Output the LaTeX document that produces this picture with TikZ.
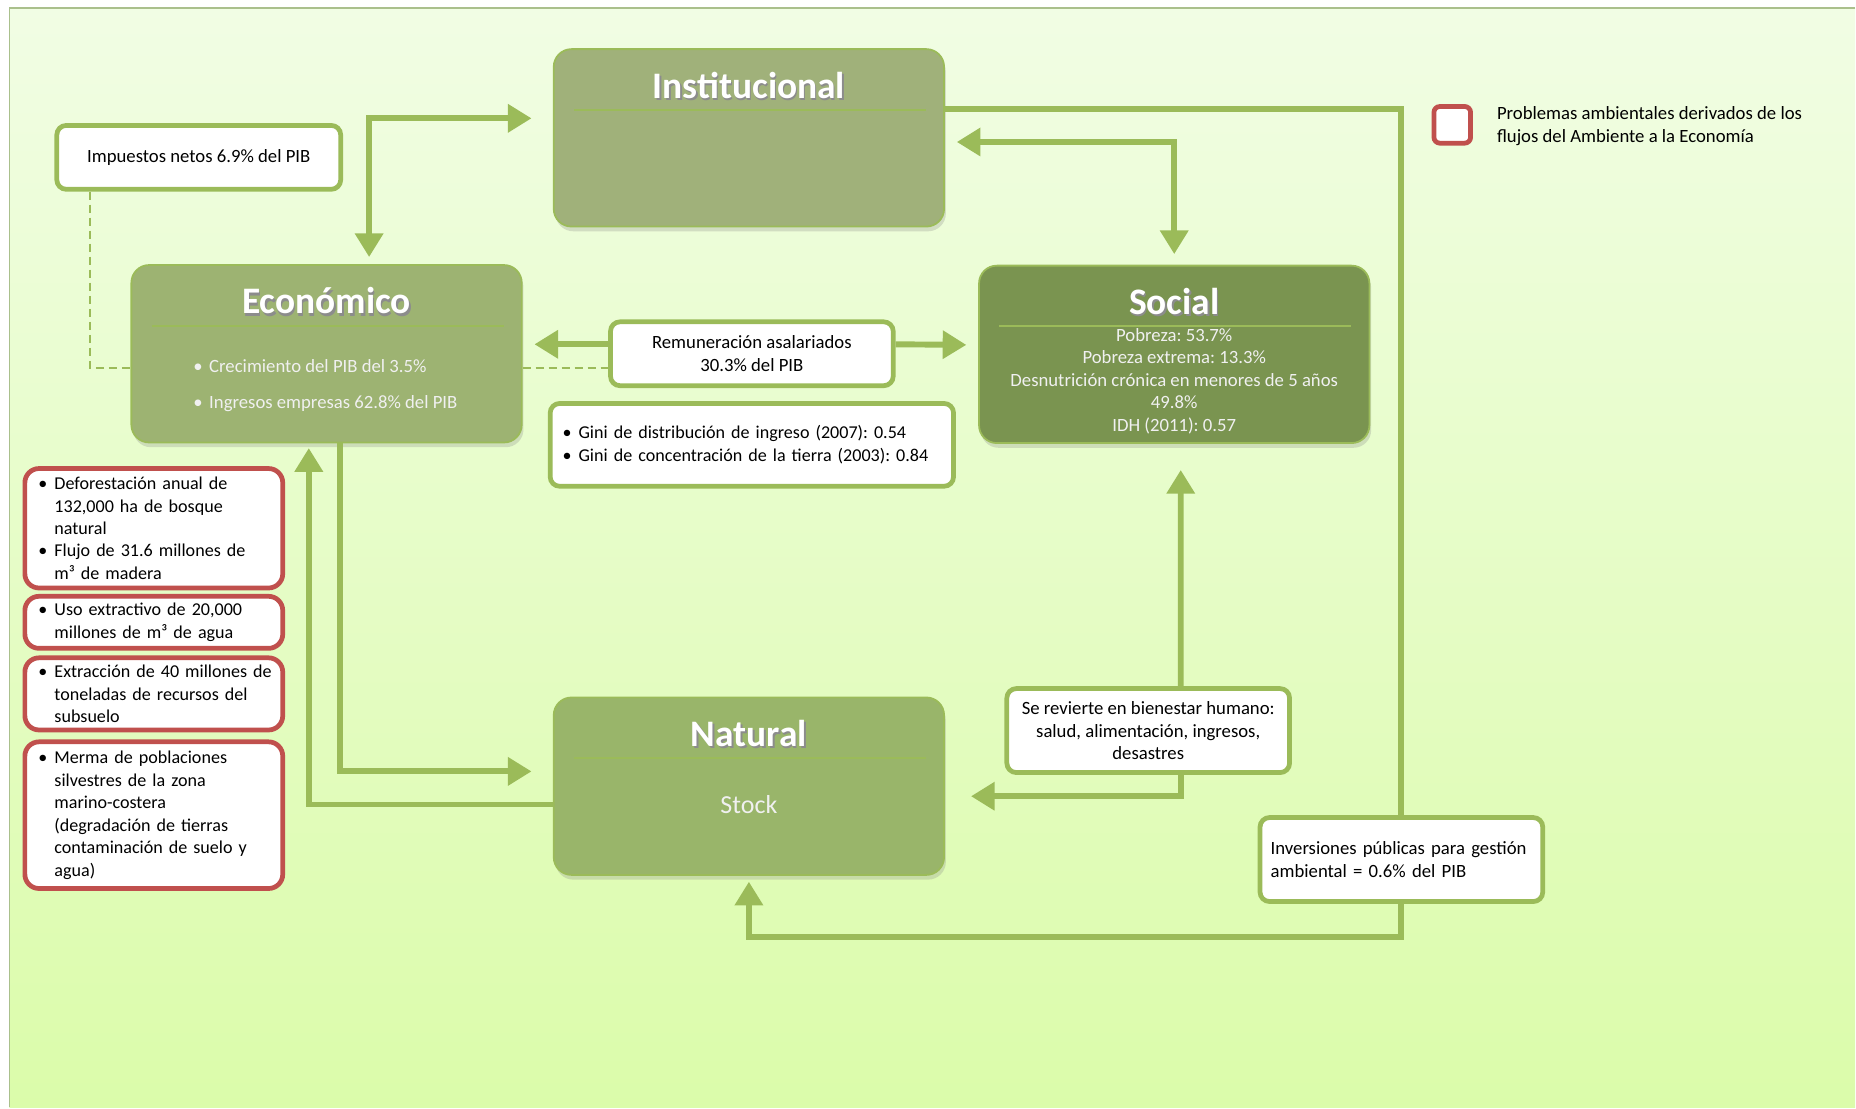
\documentclass[tikz,border=0pt]{standalone}
\usepackage{fontspec}
\setmainfont{Carlito}
\usetikzlibrary{arrows.meta,shadows}

\definecolor{flowgreen}{RGB}{155,187,89}
\definecolor{instfill}{RGB}{160,177,122}
\definecolor{econfill}{RGB}{157,179,114}
\definecolor{socfill}{RGB}{122,148,80}
\definecolor{natfill}{RGB}{153,181,106}
\definecolor{probred}{RGB}{192,80,77}
\definecolor{bgtop}{RGB}{241,253,228}
\definecolor{bgbottom}{RGB}{219,252,170}
\definecolor{framegray}{RGB}{170,192,140}

\frenchspacing
\newcommand{\itembul}{\makebox[0.27cm][l]{\textbullet}}
\newcommand{\itemind}{\hspace*{0.27cm}}
\newcommand{\shadowed}[1]{\leavevmode\rlap{\kern0.7pt\raisebox{-1pt}{\textcolor{black!45}{#1}}}#1}

\begin{document}
\begin{tikzpicture}[x=0.02cm,y=-0.02cm,>={Triangle[length=0.4cm,width=0.46cm]},
    flow/.style={draw=flowgreen,line width=0.1cm},
    dashline/.style={draw=flowgreen,line width=0.04cm,dash pattern=on 0.14cm off 0.08cm},
    bigbox/.style={draw=flowgreen,line width=0.03cm,rounded corners=0.3cm,
        minimum width=6.6cm,minimum height=3cm,
        drop shadow={shadow xshift=0.03cm,shadow yshift=-0.08cm,opacity=0.25}},
    boxtitle/.style={text=white,font=\fontsize{18}{21}\selectfont\bfseries},
    sepline/.style={draw=flowgreen,line width=0.03cm},
    bodytext/.style={text=white!94!black,font=\fontsize{9}{10.8}\selectfont,inner sep=0pt},
    note/.style={draw=flowgreen,line width=0.08cm,rounded corners=0.16cm,fill=white,
        font=\fontsize{9}{10.8}\selectfont,inner sep=0pt},
    problem/.style={draw=probred,line width=0.08cm,rounded corners=0.24cm,fill=white,
        text width=4.3cm,inner xsep=0.03cm,inner ysep=0pt,align=left,
        font=\fontsize{8.7}{10.8}\selectfont}]
  % background
  \fill[white] (0,0) rectangle (1568,936);
  \shade[top color=bgtop,bottom color=bgbottom] (8,7) rectangle (1568,936);
  \draw[framegray,line width=0.03cm] (1568,7) -- (8,7) -- (8,936);
  \useasboundingbox (0,0) rectangle (1568,936);

  % the four capitals
  \foreach \n/\x/\y/\c/\ttl in {inst/633/116.5/instfill/Institucional,
      econ/276/299/econfill/Económico,
      social/992.5/299.5/socfill/Social,
      natural/633/664.5/natfill/Natural} {
      \node[bigbox,fill=\c] (\n) at (\x,\y) {};
      \node[boxtitle] (\n-title) at ([yshift=-0.64cm]\n.north) {\shadowed{\ttl}};
      \draw[sepline] ([xshift=0.36cm,yshift=-1.04cm]\n.north west) -- ([xshift=-0.32cm,yshift=-1.04cm]\n.north east);
    }
  \node[bodytext,align=left,anchor=west] (econ-body) at (163,326)
    {\itembul Crecimiento del PIB del 3.5\%\\[0.22cm]\itembul Ingresos empresas 62.8\% del PIB};
  \node[bodytext,align=center] (social-body) at (992.5,322)
    {Pobreza: 53.7\%\\Pobreza extrema: 13.3\%\\Desnutrición crónica en menores de 5 años\\49.8\%\\IDH (2011): 0.57};
  \node[bodytext,font=\fontsize{12.5}{15}\selectfont] (natural-stock) at (633,680) {Stock};

  % flows
  \node[note,minimum width=4.8cm,minimum height=1.08cm] (impuestos) at (168,133) {Impuestos netos 6.9\% del PIB};
  \node[note,minimum width=4.78cm,minimum height=1.08cm,align=center] (remun) at (635.5,299)
    {Remuneración asalariados\\30.3\% del PIB};
  \node[note,minimum width=6.82cm,minimum height=1.4cm,text width=6.4cm,align=left,
      font=\fontsize{8.7}{10.8}\selectfont] (gini) at (635.5,376)
    {\itembul Gini de distribución de ingreso (2007): 0.54\\\itembul Gini de concentración de la tierra (2003): 0.84};
  \node[note,minimum width=4.78cm,minimum height=1.42cm,align=center] (revierte) at (970.5,617.5)
    {Se revierte en bienestar humano:\\salud, alimentación, ingresos,\\desastres};
  \node[note,minimum width=4.78cm,minimum height=1.42cm,text width=4.42cm,align=left] (inver) at (1184.5,726.5)
    {Inversiones públicas para gestión\\ambiental = 0.6\% del PIB};

  % environmental problems
  \node[problem,minimum height=2.02cm] (prob-bosque) at (130,446.5)
    {\hspace*{0.2cm}\itembul Deforestación anual de\\\hspace*{0.2cm}\itemind 132,000 ha de bosque\\\hspace*{0.2cm}\itemind natural\\
     \hspace*{0.2cm}\itembul Flujo de 31.6 millones de\\\hspace*{0.2cm}\itemind m³ de madera};
  \node[problem,minimum height=0.88cm] (prob-agua) at (130,526)
    {\hspace*{0.2cm}\itembul Uso extractivo de 20,000\\\hspace*{0.2cm}\itemind millones de m³ de agua};
  \node[problem,minimum height=1.22cm] (prob-subsuelo) at (130,586.5)
    {\hspace*{0.2cm}\itembul Extracción de 40 millones de\\\hspace*{0.2cm}\itemind toneladas de recursos del\\\hspace*{0.2cm}\itemind subsuelo};
  \node[problem,minimum height=2.48cm] (prob-costa) at (130,689)
    {\hspace*{0.2cm}\itembul Merma de poblaciones\\\hspace*{0.2cm}\itemind silvestres de la zona\\\hspace*{0.2cm}\itemind marino-costera\\
     \hspace*{0.2cm}\itemind (degradación de tierras\\\hspace*{0.2cm}\itemind contaminación de suelo y\\\hspace*{0.2cm}\itemind agua)};

  % legend
  \node[draw=probred,line width=0.08cm,rounded corners=0.1cm,fill=white,minimum size=0.62cm] (legend-box) at (1227.5,105.5) {};
  \node[anchor=west,align=left,inner sep=0pt,font=\fontsize{9}{10.8}\selectfont] (legend-text) at (1265,106.5)
    {Problemas ambientales derivados de los\\flujos del Ambiente a la Economía};

  % connectors
  \draw[flow,<->] ([xshift=0.72cm,yshift=0.12cm]econ.north) |- ([xshift=-0.36cm,yshift=0.33cm]inst.west);
  \draw[flow,<->] ([xshift=0.2cm,yshift=-0.07cm]inst.east) -| ([yshift=0.18cm]social.north);
  \draw[flow] ([yshift=0.49cm]inst.east) -| (inver.north);
  \draw[flow,->] (inver.south) -- ++(0,28) -| ([yshift=-0.1cm]natural.south);
  \draw[flow,->] ([yshift=0.16cm]remun.west) -- ([xshift=0.2cm,yshift=0.16cm]econ.east);
  \draw[flow,->] ([yshift=0.16cm]remun.east) -- ([xshift=-0.2cm,yshift=0.16cm]social.west);
  \draw[dashline] ([xshift=-1.84cm]impuestos.south) |- ([yshift=-0.24cm]econ.west);
  \draw[dashline] ([yshift=-0.24cm]econ.east) -- ([yshift=-0.24cm]remun.west);
  \draw[flow,->] ([xshift=0.22cm]econ.south) |- ([xshift=-0.36cm,yshift=0.25cm]natural.west);
  \draw[flow,->] ([yshift=-0.31cm]natural.west) -| ([xshift=-0.3cm,yshift=-0.08cm]econ.south);
  \draw[flow,->] ([xshift=0.55cm]revierte.north) -- ([xshift=0.11cm,yshift=-0.44cm]social.south);
  \draw[flow,->] ([xshift=0.55cm]revierte.south) |- ([xshift=0.44cm,yshift=-0.17cm]natural.east);
\end{tikzpicture}
\end{document}
